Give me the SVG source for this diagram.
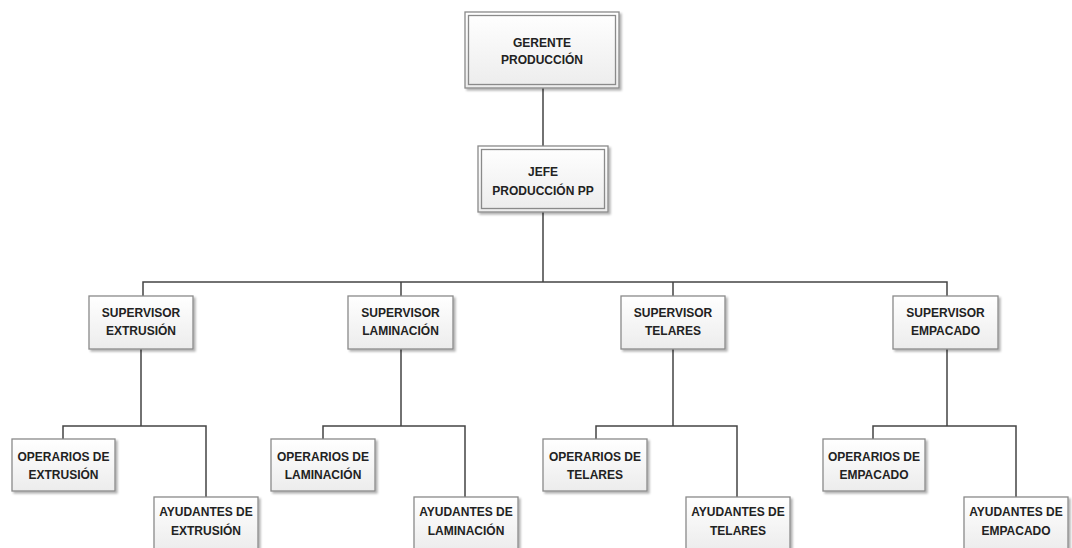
<svg xmlns="http://www.w3.org/2000/svg" width="1072" height="548" viewBox="0 0 1072 548">
<defs>
<linearGradient id="g" x1="0" y1="0" x2="0" y2="1">
<stop offset="0" stop-color="#ffffff"/>
<stop offset="1" stop-color="#ececec"/>
</linearGradient>
<filter id="sh" x="-10%" y="-10%" width="125%" height="130%">
<feDropShadow dx="2" dy="2" stdDeviation="1.2" flood-color="#000" flood-opacity="0.3"/>
</filter>
</defs>
<style>
.box{fill:url(#g);stroke:#8a8a8a;stroke-width:1.3;filter:url(#sh)}
.inner{fill:none;stroke:#8a8a8a;stroke-width:1.3}
.t{font-family:"Liberation Sans",Arial,sans-serif;font-weight:bold;font-size:12px;fill:#222;text-anchor:middle}
.c{fill:none;stroke:#444;stroke-width:1.5}
</style>
<rect width="1072" height="548" fill="#ffffff"/>
<g id="connectors">
<path class="c" d="M543 88V146M543 212V282M143 296V282H947V296M401 282V296M673 282V296"/>
<path class="c" d="M141 349V426M63 439V426H206V497"/>
<path class="c" d="M401 349V426M323 439V426H465V497"/>
<path class="c" d="M673 349V426M596 439V426H737V497"/>
<path class="c" d="M947 349V426M873 439V426H1016V497"/>
</g>
<g id="gerente">
<rect class="box" x="465" y="12" width="154" height="76"/>
<rect class="inner" x="468.5" y="15.5" width="147" height="69"/>
<text class="t" x="542" y="47">GERENTE</text>
<text class="t" x="542" y="64">PRODUCCIÓN</text>
</g>
<g id="jefe">
<rect class="box" x="478" y="146" width="130" height="66"/>
<rect class="inner" x="481.5" y="149.5" width="123" height="59"/>
<text class="t" x="543" y="176">JEFE</text>
<text class="t" x="543" y="195">PRODUCCIÓN PP</text>
</g>
<g id="sup-extrusion">
<rect class="box" x="89" y="296" width="104" height="53"/>
<text class="t" x="141" y="317">SUPERVISOR</text>
<text class="t" x="141" y="335">EXTRUSIÓN</text>
</g>
<g id="sup-laminacion">
<rect class="box" x="348" y="296" width="105" height="53"/>
<text class="t" x="400.5" y="317">SUPERVISOR</text>
<text class="t" x="400.5" y="335">LAMINACIÓN</text>
</g>
<g id="sup-telares">
<rect class="box" x="621" y="296" width="104" height="53"/>
<text class="t" x="673" y="317">SUPERVISOR</text>
<text class="t" x="673" y="335">TELARES</text>
</g>
<g id="sup-empacado">
<rect class="box" x="893" y="296" width="105" height="53"/>
<text class="t" x="945.5" y="317">SUPERVISOR</text>
<text class="t" x="945.5" y="335">EMPACADO</text>
</g>
<g id="op-extrusion">
<rect class="box" x="12" y="439" width="103" height="52"/>
<text class="t" x="63.5" y="461">OPERARIOS DE</text>
<text class="t" x="63.5" y="479">EXTRUSIÓN</text>
</g>
<g id="ay-extrusion">
<rect class="box" x="154" y="497" width="104" height="54"/>
<text class="t" x="206" y="516">AYUDANTES DE</text>
<text class="t" x="206" y="535">EXTRUSIÓN</text>
</g>
<g id="op-laminacion">
<rect class="box" x="271" y="439" width="104" height="52"/>
<text class="t" x="323" y="461">OPERARIOS DE</text>
<text class="t" x="323" y="479">LAMINACIÓN</text>
</g>
<g id="ay-laminacion">
<rect class="box" x="414" y="497" width="104" height="54"/>
<text class="t" x="466" y="516">AYUDANTES DE</text>
<text class="t" x="466" y="535">LAMINACIÓN</text>
</g>
<g id="op-telares">
<rect class="box" x="543" y="439" width="104" height="52"/>
<text class="t" x="595" y="461">OPERARIOS DE</text>
<text class="t" x="595" y="479">TELARES</text>
</g>
<g id="ay-telares">
<rect class="box" x="686" y="497" width="104" height="54"/>
<text class="t" x="738" y="516">AYUDANTES DE</text>
<text class="t" x="738" y="535">TELARES</text>
</g>
<g id="op-empacado">
<rect class="box" x="823" y="439" width="102" height="52"/>
<text class="t" x="874" y="461">OPERARIOS DE</text>
<text class="t" x="874" y="479">EMPACADO</text>
</g>
<g id="ay-empacado">
<rect class="box" x="964" y="497" width="104" height="54"/>
<text class="t" x="1016" y="516">AYUDANTES DE</text>
<text class="t" x="1016" y="535">EMPACADO</text>
</g>
</svg>
